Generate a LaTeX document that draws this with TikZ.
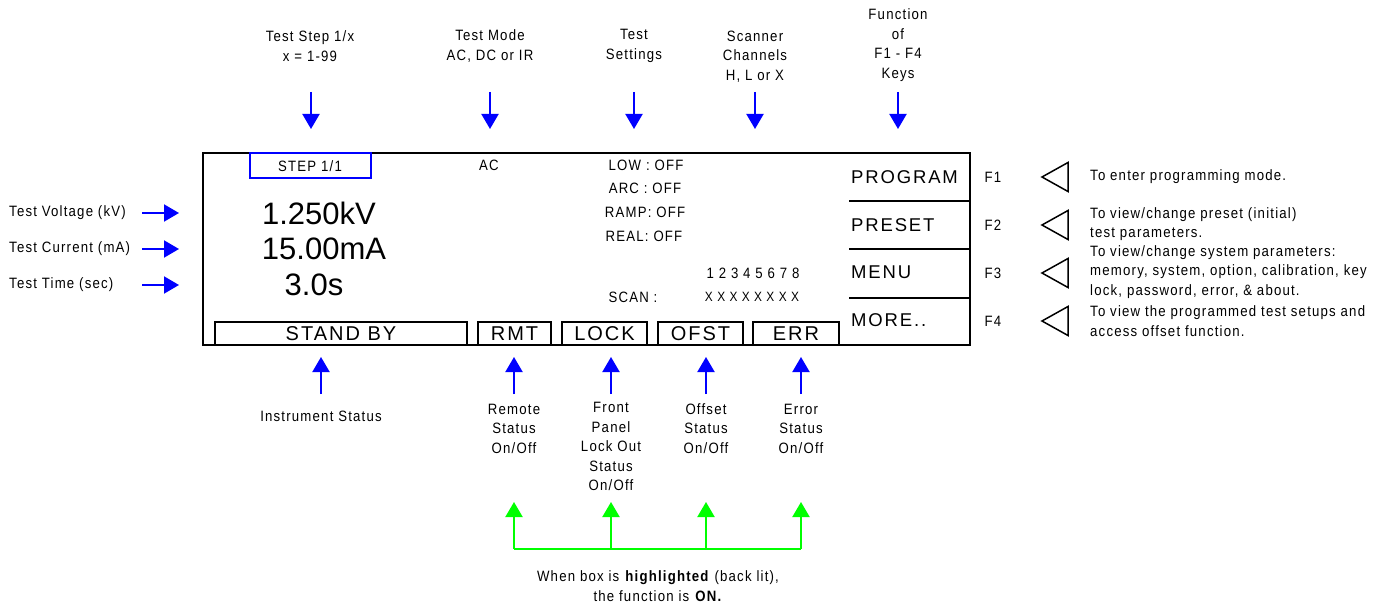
\documentclass[tikz,border=0pt]{standalone}
\usepackage{fontspec}
\setmainfont{Liberation Sans}
\newfontfamily\lblfont[LetterSpace=8,FakeStretch=0.88]{Liberation Sans}
\newfontfamily\dispfont[LetterSpace=10]{Liberation Sans}
\usetikzlibrary{arrows.meta}
\tikzset{
  call arrow/.style={
    -{Triangle[length=15pt,width=17pt]},
    line width=2pt,
    color=blue
  },
  lit arrow/.style={
    -{Triangle[length=15pt,width=17pt]},
    line width=2pt,
    color=green
  },
  label text/.style={
    font=\lblfont\fontsize{15}{19.5}\selectfont,
    align=center,
    inner sep=0pt
  },
  note text/.style={
    font=\lblfont\fontsize{15}{19.5}\selectfont,
    align=left,
    anchor=west,
    inner sep=0pt
  },
  big reading/.style={
    font=\fontsize{31}{31}\selectfont,
    inner sep=0pt
  },
  status box/.style={
    draw,
    line width=2pt,
    minimum height=23pt,
    inner sep=0pt,
    font=\dispfont\fontsize{20}{20}\selectfont
  },
  soft key/.style={
    font=\dispfont\fontsize{18.5}{20}\selectfont,
    anchor=west,
    inner sep=0pt
  },
  key mark/.style={
    draw,
    line width=1.5pt,
    line join=miter
  }
}

\begin{document}
\begin{tikzpicture}[x=1pt, y=-1pt]
  \useasboundingbox (0,0) rectangle (1393,604);

  %% ---- display outline ----
  \draw[line width=2pt] (203,153) rectangle (970,345);
  \draw[line width=1.5pt] (849,201) -- (970,201);
  \draw[line width=1.5pt] (849,249) -- (970,249);
  \draw[line width=1.5pt] (849,298) -- (970,298);

  %% ---- step box and mode ----
  \draw[line width=2pt, blue] (250,153) rectangle (371,178);
  \node[label text] (step) at (310,166) {STEP 1/1};
  \node[label text] (mode) at (489,165) {AC};

  %% ---- settings column ----
  \node[label text] (low)  at (646,165) {LOW : OFF};
  \node[label text] (arc)  at (645,188) {ARC : OFF};
  \node[label text] (ramp) at (645,212) {RAMP: OFF};
  \node[label text] (real) at (644,236) {REAL: OFF};
  \node[label text] (chan) at (753,273) {1 2 3 4 5 6 7 8};
  \node[label text] (scan) at (633,297) {SCAN :};
  \node[label text, font=\lblfont\fontsize{13.5}{15}\selectfont] (chanx) at (752,297) {X X X X X X X X};

  %% ---- readings ----
  \node[big reading] (volt) at (319,213) {1.250kV};
  \node[big reading] (curr) at (324,249) {15.00mA};
  \node[big reading] (time) at (314,285) {3.0s};

  %% ---- status boxes ----
  \node[status box, minimum width=252pt] (standby) at (341,333.5) {STAND BY};
  \node[status box, minimum width=73pt]  (rmt)  at (514.5,333.5) {RMT};
  \node[status box, minimum width=85pt]  (lock) at (604.5,333.5) {LOCK};
  \node[status box, minimum width=85pt]  (ofst) at (700.5,333.5) {OFST};
  \node[status box, minimum width=86pt]  (err)  at (796,333.5) {ERR};

  %% ---- soft keys F1 - F4 ----
  \node[soft key] (prog)   at (851,177) {PROGRAM};
  \node[soft key] (preset) at (851,225) {PRESET};
  \node[soft key] (menu)   at (851,272) {MENU};
  \node[soft key] (more)   at (851,320) {MORE..};
  \node[label text] (f1) at (993,177) {F1};
  \node[label text] (f2) at (993,225) {F2};
  \node[label text] (f3) at (993,273) {F3};
  \node[label text] (f4) at (993,321) {F4};
  \foreach \ty in {177,225,273,321}
    \draw[key mark] (1042,\ty) -- (1068,\ty-14.5) -- (1068,\ty+14.5) -- cycle;
  \node[note text] (n1) at (1090,177) {To enter programming mode.};
  \node[note text] (n2) at (1090,224) {To view/change preset (initial)\\test parameters.};
  \node[note text] (n3) at (1090,272) {To view/change system parameters:\\memory, system, option, calibration, key\\lock, password, error, \& about.};
  \node[note text] (n4) at (1090,321) {To view the programmed test setups and\\access offset function.};

  %% ---- labels above ----
  \node[label text] (stepinfo) at (310,46)   {Test Step 1/x\\x = 1-99};
  \node[label text] (modeinfo) at (490,46)   {Test Mode\\AC, DC or IR};
  \node[label text] (setinfo)  at (634,46)   {Test\\Settings};
  \node[label text] (scaninfo) at (755,56.5) {Scanner\\Channels\\H, L or X};
  \node[label text] (keyinfo)  at (898,45)   {Function\\of\\F1 - F4\\Keys};
  \coordinate (stepA) at (311,92);  \coordinate (stepB) at (311,129);
  \coordinate (modeA) at (490,92);  \coordinate (modeB) at (490,129);
  \coordinate (setA)  at (634,92);  \coordinate (setB)  at (634,129);
  \coordinate (scanA) at (755,92);  \coordinate (scanB) at (755,129);
  \coordinate (keyA)  at (898,92);  \coordinate (keyB)  at (898,129);
  \draw[call arrow] (stepA) -- (stepB);
  \draw[call arrow] (modeA) -- (modeB);
  \draw[call arrow] (setA) -- (setB);
  \draw[call arrow] (scanA) -- (scanB);
  \draw[call arrow] (keyA) -- (keyB);

  %% ---- labels on the left ----
  \node[note text] (voltinfo) at (9,213) {Test Voltage (kV)};
  \node[note text] (currinfo) at (9,249) {Test Current (mA)};
  \node[note text] (timeinfo) at (9,285) {Test Time (sec)};
  \coordinate (voltA) at (142,213); \coordinate (voltB) at (179,213);
  \coordinate (currA) at (142,249); \coordinate (currB) at (179,249);
  \coordinate (timeA) at (142,285); \coordinate (timeB) at (179,285);
  \draw[call arrow] (voltA) -- (voltB);
  \draw[call arrow] (currA) -- (currB);
  \draw[call arrow] (timeA) -- (timeB);

  %% ---- labels below ----
  \node[label text] (instinfo) at (321,416)   {Instrument Status};
  \node[label text] (rmtinfo)  at (514,428.5) {Remote\\Status\\On/Off};
  \node[label text] (lockinfo) at (611,446.5) {Front\\Panel\\Lock Out\\Status\\On/Off};
  \node[label text] (ofstinfo) at (706,428.5) {Offset\\Status\\On/Off};
  \node[label text] (errinfo)  at (801,428.5) {Error\\Status\\On/Off};
  \coordinate (instA) at (321,394); \coordinate (instB) at (321,357);
  \coordinate (rmtA)  at (514,394); \coordinate (rmtB)  at (514,357);
  \coordinate (lockA) at (611,394); \coordinate (lockB) at (611,357);
  \coordinate (ofstA) at (706,394); \coordinate (ofstB) at (706,357);
  \coordinate (errA)  at (801,394); \coordinate (errB)  at (801,357);
  \draw[call arrow] (instA) -- (instB);
  \draw[call arrow] (rmtA) -- (rmtB);
  \draw[call arrow] (lockA) -- (lockB);
  \draw[call arrow] (ofstA) -- (ofstB);
  \draw[call arrow] (errA) -- (errB);

  %% ---- highlight note ----
  \coordinate (g1) at (514,549); \coordinate (g1t) at (514,502);
  \coordinate (g2) at (611,549); \coordinate (g2t) at (611,502);
  \coordinate (g3) at (706,549); \coordinate (g3t) at (706,502);
  \coordinate (g4) at (801,549); \coordinate (g4t) at (801,502);
  \draw[line width=2pt, green] (g1) -- (g4);
  \draw[lit arrow] (g1) -- (g1t);
  \draw[lit arrow] (g2) -- (g2t);
  \draw[lit arrow] (g3) -- (g3t);
  \draw[lit arrow] (g4) -- (g4t);
  \node[label text] (litinfo) at (658,586) {When box is \textbf{highlighted} (back lit),\\the function is \textbf{ON.}};

\end{tikzpicture}
\end{document}
